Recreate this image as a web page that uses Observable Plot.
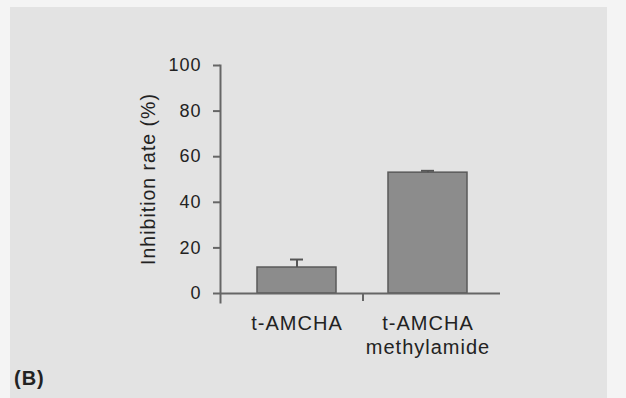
<!DOCTYPE html>
<html><head><meta charset="utf-8">
<script src="https://cdn.jsdelivr.net/npm/d3@7"></script>
<script src="https://cdn.jsdelivr.net/npm/@observablehq/plot@0.6"></script>
<style>
html,body{margin:0;padding:0;background:#f4f4f4;}
#wrap{position:relative;width:626px;height:398px;overflow:hidden;}
#panel{position:absolute;left:10px;top:7px;width:597px;height:391px;background:#e3e3e3;}
#chart{position:absolute;left:0;top:0;}
#tag{position:absolute;left:14px;top:367px;font:bold 20px "Liberation Sans",Arial,sans-serif;color:#222;letter-spacing:1px;}
</style></head>
<body>
<div id="wrap"><div id="panel"></div><div id="chart"></div><div id="tag">(B)</div></div>
<script>
const categories = ["t-AMCHA", "t-AMCHA\nmethylamide"];
const values = [11.4, 53.0];
const errors = [3.5, 0.8];
const yTicks = [0, 20, 40, 60, 80, 100];
const yLabel = "Inhibition rate (%)";

const data = categories.map((c, i) => ({cat: c, value: values[i], err: errors[i]}));

const chart = Plot.plot({
  width: 626,
  height: 398,
  marginLeft: 220,
  marginRight: 126,
  marginTop: 65,
  marginBottom: 96,
  style: {background: "transparent", fontFamily: "'Liberation Sans', Arial, sans-serif", fontSize: "18px", color: "#222", overflow: "visible"},
  x: {domain: categories, range: [224, 500], paddingInner: 0.4, paddingOuter: 0.25},
  y: {domain: [0, 100], range: [293, 65]},
  marks: [
    Plot.barY(data, {x: "cat", y: "value", fill: "#8c8c8c", stroke: "#5a5a5a", strokeWidth: 1.5}),
    Plot.ruleX(data, {x: "cat", y1: "value", y2: d => d.value + d.err, stroke: "#555", strokeWidth: 2}),
    Plot.tickY(data, {x: "cat", y: d => d.value + d.err, stroke: "#555", strokeWidth: 2, insetLeft: 33, insetRight: 33}),
    Plot.ruleY([0], {stroke: "#666", strokeWidth: 2}),
    Plot.frame({anchor: "left", stroke: "#666", strokeWidth: 2}),
    Plot.ruleX([categories[0]], {y1: 0, y2: -3.5, dx: 66, stroke: "#666", strokeWidth: 2}),
    Plot.axisY({ticks: yTicks, tickSize: 7, tickPadding: 12, stroke: "#666", strokeWidth: 2, fontSize: 18, fill: "#222", label: null}),
    Plot.text([yLabel], {frameAnchor: "left", textAnchor: "middle", rotate: -90, dx: -72, dy: -5, fontSize: 19.5, fill: "#222"}),
    Plot.axisX({tickSize: 0, tickPadding: 10, fontSize: 20, fill: "#222", lineHeight: 1.2, label: null})
  ]
});
chart.style.letterSpacing = "1px";
document.getElementById("chart").appendChild(chart);
</script>
</body></html>
